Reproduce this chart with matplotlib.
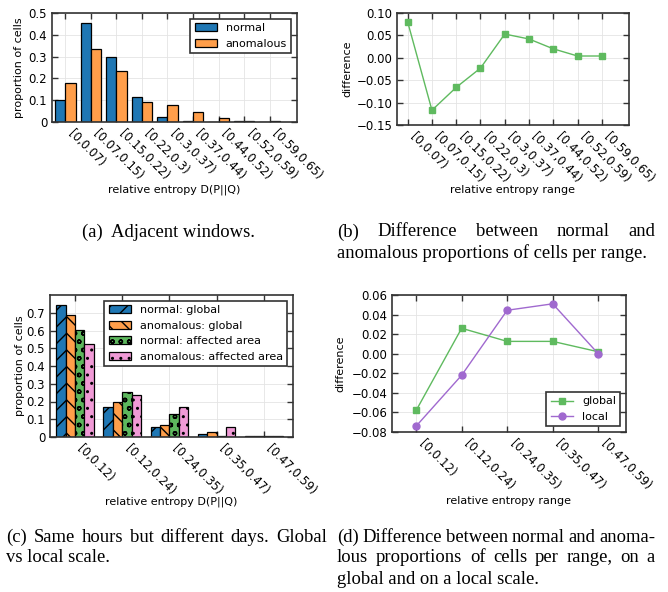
import numpy as np
import matplotlib
matplotlib.use('Agg')
import matplotlib.pyplot as plt

# Data.
ranges_a = ['[0,0.07)', '[0.07,0.15)', '[0.15,0.22)', '[0.22,0.3)', '[0.3,0.37)',
            '[0.37,0.44)', '[0.44,0.52)', '[0.52,0.59)', '[0.59,0.65)']
normal_a = [0.100, 0.453, 0.297, 0.116, 0.025, 0.006, 0.001, 0.003, 0.001]
anomalous_a = [0.181, 0.336, 0.234, 0.093, 0.077, 0.046, 0.020, 0.004, 0.004]
diff_b = [0.080, -0.117, -0.066, -0.023, 0.053, 0.042, 0.020, 0.004, 0.004]

ranges_c = ['[0,0.12)', '[0.12,0.24)', '[0.24,0.35)', '[0.35,0.47)', '[0.47,0.59)']
normal_global = [0.743, 0.170, 0.059, 0.015, 0.005]
anomalous_global = [0.687, 0.199, 0.070, 0.030, 0.007]
normal_area = [0.602, 0.255, 0.127, 0.008, 0.007]
anomalous_area = [0.526, 0.236, 0.170, 0.059, 0.007]
diff_global = [-0.058, 0.026, 0.0126, 0.0126, 0.002]
diff_local = [-0.074, -0.022, 0.0444, 0.051, 0.0]

W, H = 668, 592
BLUE, ORANGE, GREEN, PINK = '#1f77b4', '#ff9e4a', '#5db75d', '#f09ad6'
LGREEN, PURPLE = '#5fba5f', '#a069cf'
TICK = 8.5
LAB = 8
plt.rcParams['font.family'] = 'DejaVu Sans'
plt.rcParams['hatch.linewidth'] = 1.0

fig = plt.figure(figsize=(W / 100, H / 100), dpi=100)


def box(l, t, r, b):
    return [l / W, 1 - b / H, (r - l) / W, (b - t) / H]


def style(ax):
    ax.grid(True, color='#e4e4e4', lw=0.6)
    ax.set_axisbelow(True)
    for s in ax.spines.values():
        s.set_color('#333333')
        s.set_linewidth(1.2)
    ax.tick_params(direction='in', top=True, right=True, length=4, width=1,
                   color='#333333', labelsize=TICK)


def labels(ax, pos, xlab, ylab, xlab_y, ylab_x):
    l, t, r, b = pos
    ax.set_xlabel(xlab, fontsize=LAB, va='center')
    ax.xaxis.set_label_coords(0.5, -(xlab_y - b) / (b - t))
    ax.set_ylabel(ylab, fontsize=LAB, va='center')
    ax.yaxis.set_label_coords((ylab_x - l) / (r - l), 0.5)


def xticks(ax, names):
    ax.set_xticks(range(len(names)))
    ax.set_xticklabels(names, rotation=-45, ha='left', va='top', fontsize=TICK)


def legend(ax, loc):
    lg = ax.legend(loc=loc, fontsize=LAB, fancybox=False, framealpha=1,
                   edgecolor='#333333')
    lg.get_frame().set_linewidth(1.2)


# (a)
pos = (52, 13, 297, 122)
ax = fig.add_axes(box(*pos))
style(ax)
x = np.arange(len(ranges_a))
ax.bar(x - 0.2, normal_a, 0.4, color=BLUE, edgecolor='k', lw=0.9, label='normal')
ax.bar(x + 0.2, anomalous_a, 0.4, color=ORANGE, edgecolor='k', lw=0.9, label='anomalous')
ax.set_xlim(-0.52, 9.07)
ax.set_ylim(0, 0.5)
ax.set_yticks([0, 0.1, 0.2, 0.3, 0.4, 0.5])
ax.set_yticklabels(['0', '0.1', '0.2', '0.3', '0.4', '0.5'])
xticks(ax, ranges_a)
labels(ax, pos, 'relative entropy D(P||Q)', 'proportion of cells', 190, 19)
legend(ax, 'upper right')

# (b)
pos = (397, 13, 629, 125)
ax = fig.add_axes(box(*pos))
style(ax)
ax.plot(x, diff_b, color=LGREEN, marker='s', ms=5, mec=LGREEN, lw=1)
ax.set_xlim(-0.44, 9.12)
ax.set_ylim(-0.15, 0.10)
ax.set_yticks(np.arange(-0.15, 0.101, 0.05))
xticks(ax, ranges_a)
labels(ax, pos, 'relative entropy range', 'difference', 190, 347)

# (c)
pos = (50, 295, 293, 437)
ax = fig.add_axes(box(*pos))
style(ax)
x = np.arange(len(ranges_c))
series = [(normal_global, BLUE, '//', 'normal: global'),
          (anomalous_global, ORANGE, '\\\\', 'anomalous: global'),
          (normal_area, GREEN, 'oo', 'normal: affected area'),
          (anomalous_area, PINK, '..', 'anomalous: affected area')]
for i, (vals, col, hatch, name) in enumerate(series):
    ax.bar(x + (i - 1.5) * 0.2, vals, 0.2, color=col, edgecolor='k', lw=0.9,
           hatch=hatch, label=name)
ax.set_xlim(-0.53, 4.62)
ax.set_ylim(0, 0.8)
ax.set_yticks([0, 0.1, 0.2, 0.3, 0.4, 0.5, 0.6, 0.7])
ax.set_yticklabels(['0', '0.1', '0.2', '0.3', '0.4', '0.5', '0.6', '0.7'])
xticks(ax, ranges_c)
labels(ax, pos, 'relative entropy D(P||Q)', 'proportion of cells', 502, 20)
legend(ax, 'upper right')

# (d)
pos = (392, 295, 626, 432)
ax = fig.add_axes(box(*pos))
style(ax)
ax.plot(x, diff_global, color=LGREEN, marker='s', ms=5, mec=LGREEN, lw=1, label='global')
ax.plot(x, diff_local, color=PURPLE, marker='o', ms=5, mec=PURPLE, lw=1, label='local')
ax.set_xlim(-0.53, 4.61)
ax.set_ylim(-0.08, 0.06)
ax.set_yticks(np.arange(-0.08, 0.061, 0.02))
xticks(ax, ranges_c)
labels(ax, pos, 'relative entropy range', 'difference', 501, 340)
legend(ax, 'lower right')

# captions
CAP = dict(fontsize=13.4, family='Liberation Serif', va='center')
renderer = fig.canvas.get_renderer()


def justify(words, x0, x1, y):
    texts = [fig.text(0, 1 - y / H, w, ha='left', **CAP) for w in words]
    widths = [t.get_window_extent(renderer).width for t in texts]
    gap = (x1 - x0 - sum(widths)) / (len(words) - 1)
    xx = x0
    for t, w in zip(texts, widths):
        t.set_x(xx / W)
        xx += w + gap


def line(text, x0, y):
    fig.text(x0 / W, 1 - y / H, text, ha='left', **CAP)


fig.text(168 / W, 1 - 232 / H, '(a)  Adjacent windows.', ha='center', **CAP)
justify(['(b)', 'Difference', 'between', 'normal', 'and'], 337, 655, 232)
line('anomalous proportions of cells per range.', 337, 253)
justify(['(c)', 'Same', 'hours', 'but', 'different', 'days.', 'Global'], 6, 327, 537)
line('vs local scale.', 6, 558)
justify(['(d)', 'Difference', 'between', 'normal', 'and', 'anoma-'], 337, 655, 537)
justify(['lous', 'proportions', 'of', 'cells', 'per', 'range,', 'on', 'a'], 337, 655, 558)
line('global and on a local scale.', 337, 579)

fig.savefig('out.png', dpi=100)
